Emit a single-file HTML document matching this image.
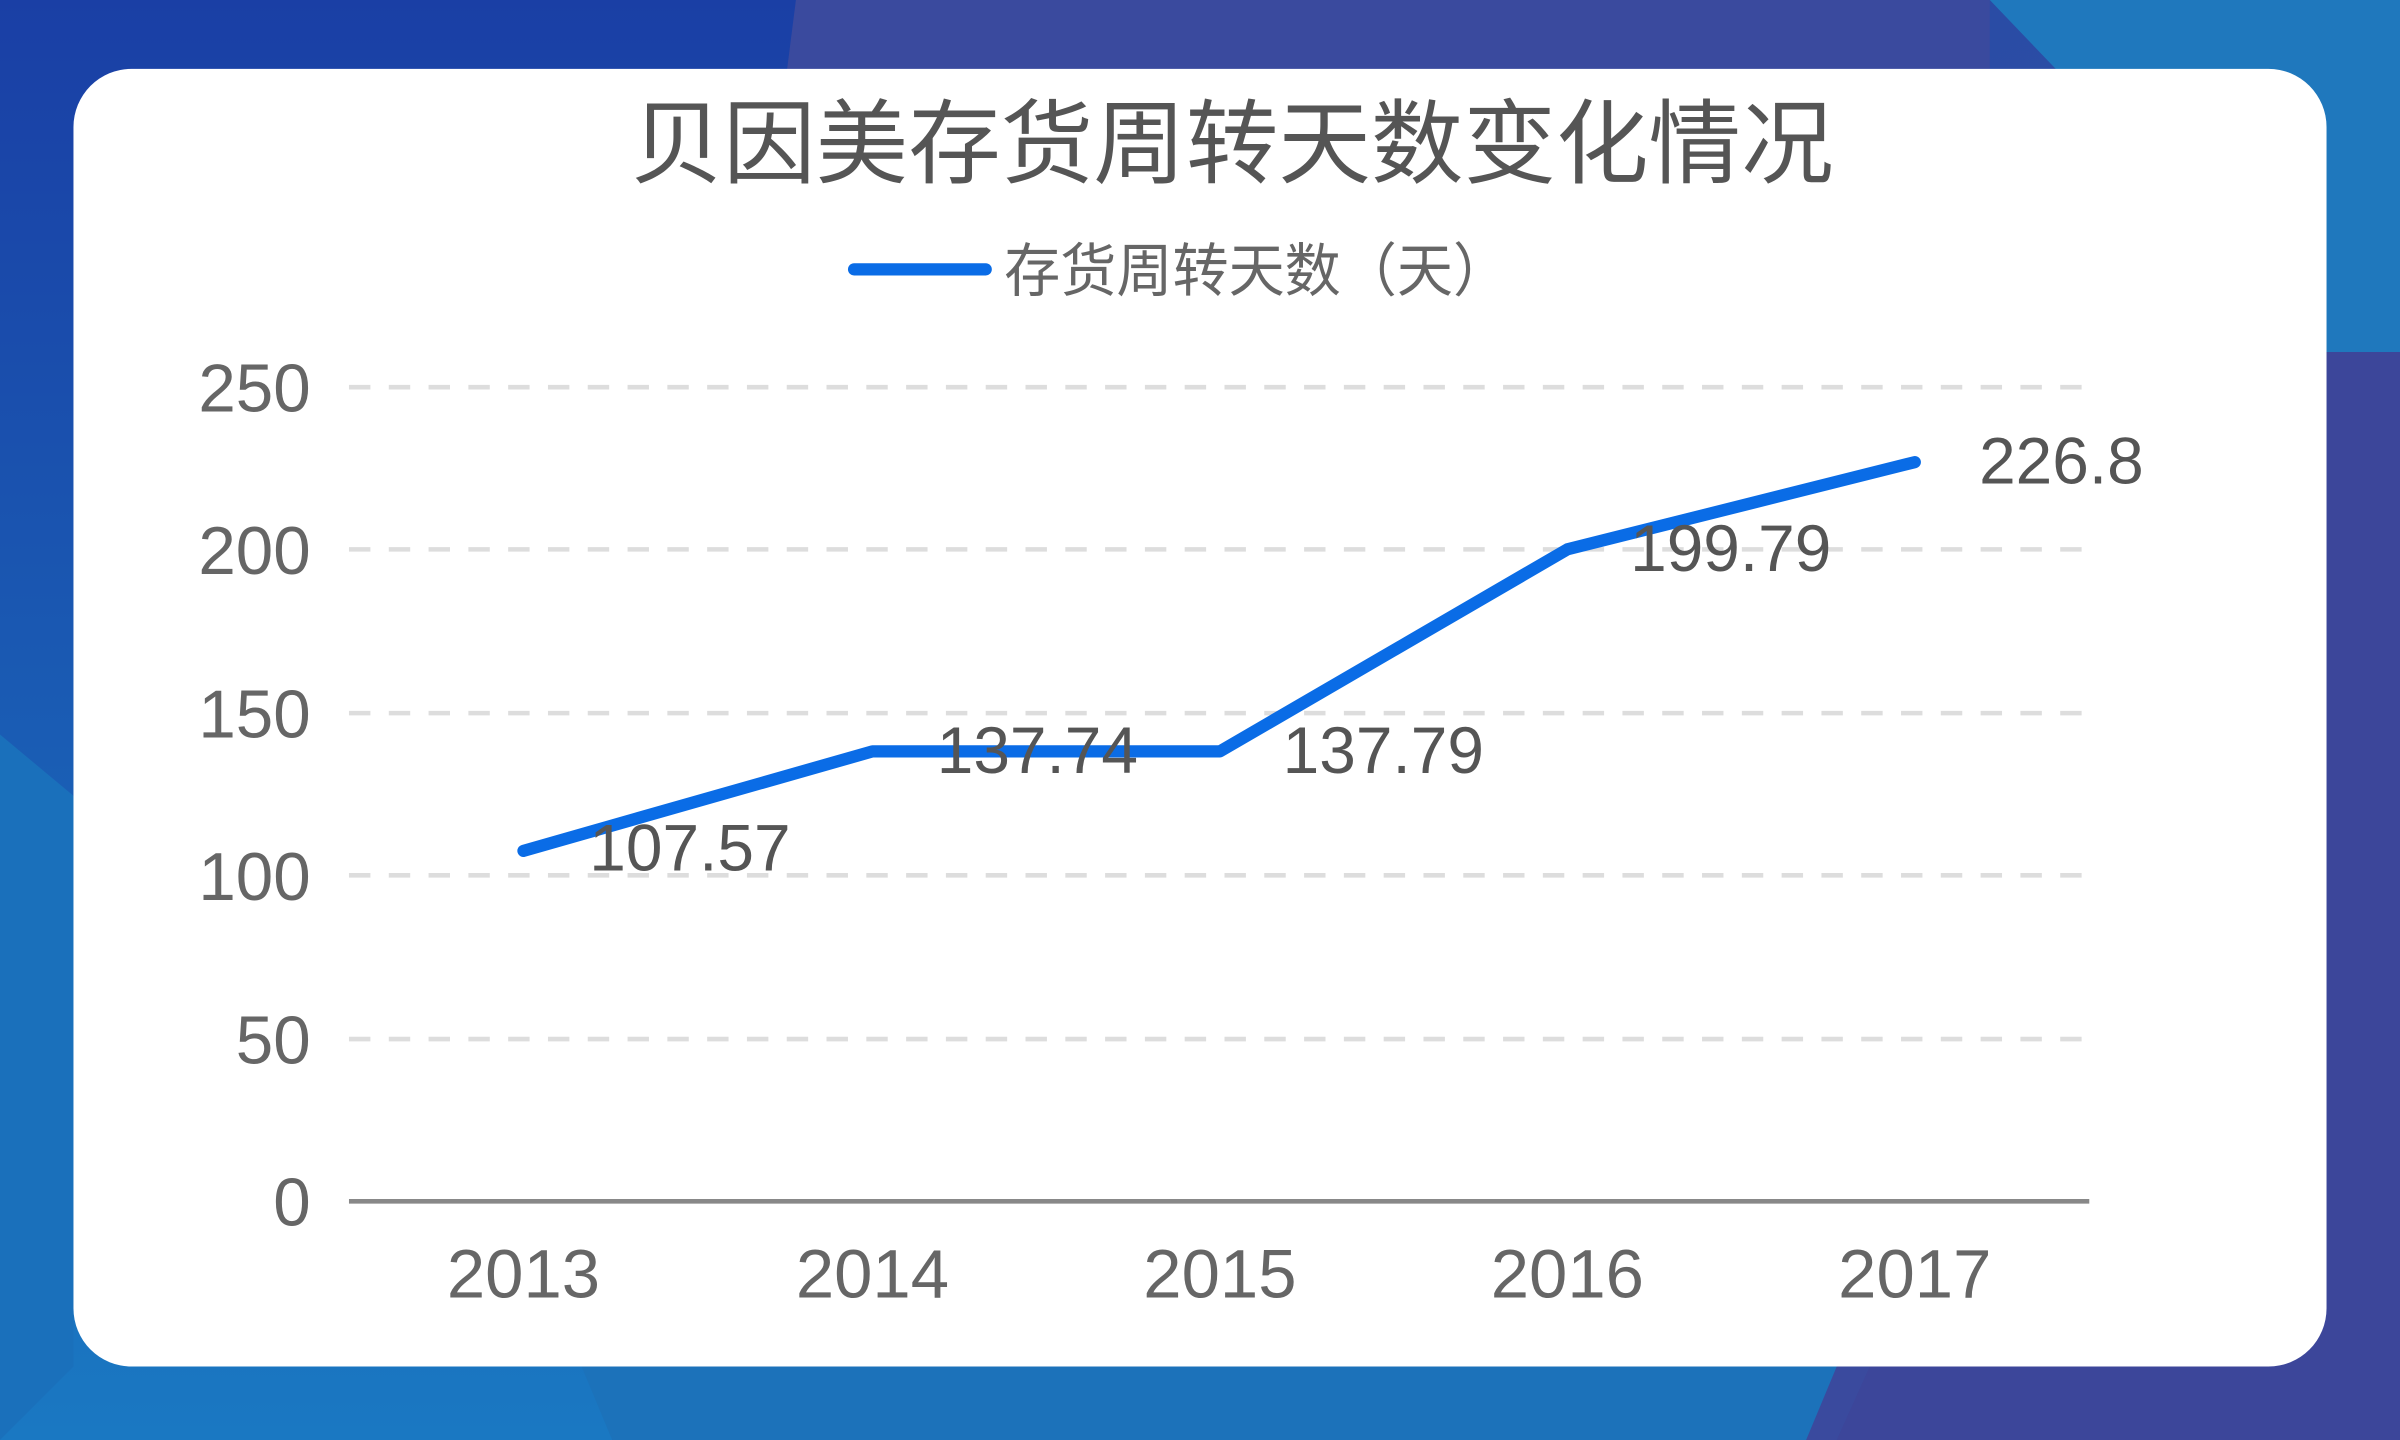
<!DOCTYPE html>
<html><head><meta charset="utf-8"><style>
html,body{margin:0;padding:0;width:2400px;height:1440px;overflow:hidden;}
svg{display:block}
text{font-family:"Liberation Sans","Noto Sans CJK SC",sans-serif;}
</style></head><body>
<svg width="2400" height="1440" viewBox="0 0 1568 941" preserveAspectRatio="none" xmlns="http://www.w3.org/2000/svg">
<defs>
<linearGradient id="bg" x1="0" y1="0" x2="1" y2="1">
<stop offset="0" stop-color="#1a3a9e"/>
<stop offset="0.5" stop-color="#2d4fa6"/>
<stop offset="1" stop-color="#3c479c"/>
</linearGradient>
<linearGradient id="bl" x1="0" y1="0" x2="0" y2="1">
<stop offset="0" stop-color="#1a3fa5"/>
<stop offset="1" stop-color="#1a78c2"/>
</linearGradient>
</defs>
<rect width="1568" height="941" fill="url(#bg)"/>
<polygon points="0,0 520,0 480,941 0,941" fill="url(#bl)"/>
<polygon points="520,0 1300,0 1300,941 400,941" fill="#3a4a9e"/>
<polygon points="1300,0 1568,0 1568,230 1520,230" fill="#1f78bd"/>
<polygon points="1520,230 1568,230 1568,941 1200,941" fill="#3c469a"/>
<polygon points="380,893 1200,893 1180,941 400,941" fill="#1c72ba"/>
<polygon points="0,480 48,520 48,893 0,941" fill="#1a70bb"/>
<rect x="48" y="45" width="1472" height="848" rx="38" fill="#fff"/>
<text x="805" y="115" text-anchor="middle" font-size="60" fill="#555" textLength="786" lengthAdjust="spacingAndGlyphs">贝因美存货周转天数变化情况</text>
<line x1="558" y1="176" x2="644" y2="176" stroke="#0a6ce6" stroke-width="8" stroke-linecap="round"/>
<text x="656" y="190" font-size="38" fill="#666" textLength="330" lengthAdjust="spacingAndGlyphs">存货周转天数（天）</text>
<g stroke="#ddd" stroke-width="3" stroke-dasharray="14 12">
<line x1="228" y1="253" x2="1365" y2="253"/>
<line x1="228" y1="359" x2="1365" y2="359"/>
<line x1="228" y1="466" x2="1365" y2="466"/>
<line x1="228" y1="572" x2="1365" y2="572"/>
<line x1="228" y1="679" x2="1365" y2="679"/>
</g>
<line x1="228" y1="785" x2="1365" y2="785" stroke="#888" stroke-width="3"/>
<g font-size="44" fill="#666" text-anchor="end">
<text x="203" y="269">250</text>
<text x="203" y="375">200</text>
<text x="203" y="482">150</text>
<text x="203" y="588">100</text>
<text x="203" y="695">50</text>
<text x="203" y="801">0</text>
</g>
<g font-size="45" fill="#666" text-anchor="middle">
<text x="342" y="848">2013</text>
<text x="570" y="848">2014</text>
<text x="797" y="848">2015</text>
<text x="1024" y="848">2016</text>
<text x="1251" y="848">2017</text>
</g>
<polyline points="342,556 570,491 797,491 1024,359 1251,302" fill="none" stroke="#0a6ce6" stroke-width="8" stroke-linecap="round" stroke-linejoin="round"/>
<g font-size="43" fill="#555">
<text x="385" y="569">107.57</text>
<text x="612" y="505">137.74</text>
<text x="838" y="505">137.79</text>
<text x="1065" y="373">199.79</text>
<text x="1293" y="316">226.8</text>
</g>
</svg>
</body></html>
